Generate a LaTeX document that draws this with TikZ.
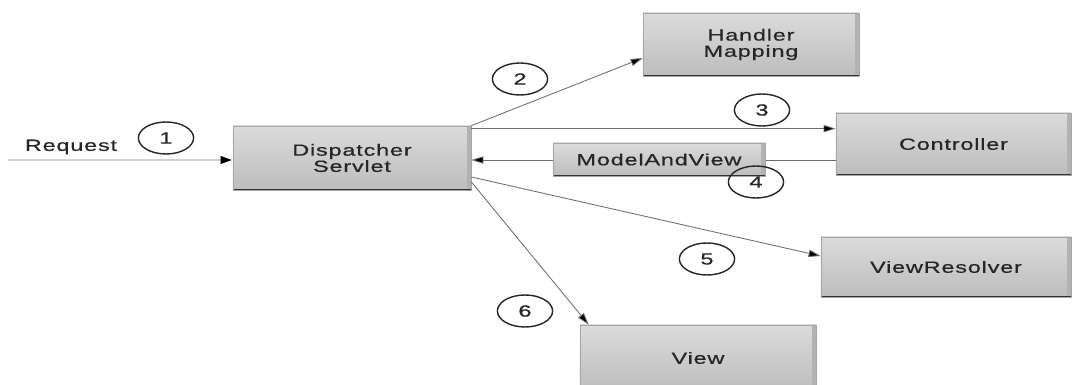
\documentclass[tikz,border=0pt]{standalone}
\usepackage{fontspec}
\usepackage{xcolor}
\usepackage{tikz}
\usetikzlibrary{shapes.geometric}
\usetikzlibrary{arrows.meta}

\newfontfamily\diagfont[FakeStretch=1.45,LetterSpace=5,FakeBold=0.6]{Liberation Sans}

\begin{document}
\begin{tikzpicture}[x=0.025cm, y=-0.025cm,
        every node/.style={font=\diagfont\fontsize{11.5}{11.5}\selectfont, text=black!85},
        box/.style={draw=gray!70, line width=0.5pt, rectangle, align=center,
            top color=gray!28, middle color=gray!10, bottom color=gray!52,
            path picture={
                \fill[gray!60] ([xshift=-0.09cm]path picture bounding box.north east)
                    rectangle (path picture bounding box.south east);
                \draw[gray!40!black, line width=0.8pt] (path picture bounding box.south west)
                    -- (path picture bounding box.south east);
            }},
        num/.style={ellipse, draw=black!85, line width=1pt, inner sep=0pt,
            minimum width=1.38cm, minimum height=0.8cm},
        flow/.style={draw=gray!85!black, line width=0.6pt,
            -{Triangle[length=0.3cm, width=0.18cm, fill=black]}}]

        \useasboundingbox (0, 0) rectangle (1073, 385);
        \fill[white] (0, 0) rectangle (1073, 385);
        \clip (0, 0) rectangle (1073, 385);

        % the boxes
        \node[box, minimum width=5.95cm, minimum height=1.6cm] (ds) at (352, 158)
            {Dispatcher\\Servlet};
        \node[box, minimum width=5.4cm, minimum height=1.575cm] (hm) at (751, 44.5)
            {Handler\\Mapping};
        \node[box, minimum width=5.875cm, minimum height=1.55cm] (ctl) at (953.5, 144)
            {Controller};
        \node[box, minimum width=6.25cm, minimum height=1.5cm] (vr) at (946, 267)
            {ViewResolver};
        \node[box, minimum width=5.9cm, minimum height=1.65cm] (view) at (698, 358)
            {View};

        % incoming request
        \node (req) at (71, 147) {Request};
        \coordinate (src) at (8, 160);
        \draw[draw=gray!35, line width=2pt,
            -{Triangle[length=0.3cm, width=0.18cm, fill=black, color=black]}]
            (src) -- (src -| ds.west);

        % calls from the dispatcher
        \draw[flow] (ds.north east) -- ([yshift=-0.34cm]hm.west);
        \draw[flow] ([yshift=-0.075cm]ds.north east) -- ([yshift=-0.075cm]ds.north east -| ctl.west);
        \coordinate (ret) at ([yshift=-0.4cm]ctl.west);
        \draw[flow] (ret) -- (ret -| ds.east);
        \draw[flow] ([yshift=-0.475cm]ds.east) -- ([yshift=0.275cm]vr.west);
        \draw[flow] ([yshift=-0.6cm]ds.east) -- ([xshift=0.225cm]view.north west);

        % returned object sits on the way back
        \node[box, minimum width=5.3cm, minimum height=0.825cm] (mav) at (659, 159.5)
            {ModelAndView};

        % step numbers
        \node[num] (n1) at (166, 138) {1};
        \node[num] (n2) at (520, 79) {2};
        \node[num] (n3) at (762, 110) {3};
        \node[num] (n4) at (756, 182) {4};
        \node[num] (n5) at (707, 259) {5};
        \node[num] (n6) at (525, 311) {6};
    \end{tikzpicture}
\end{document}
